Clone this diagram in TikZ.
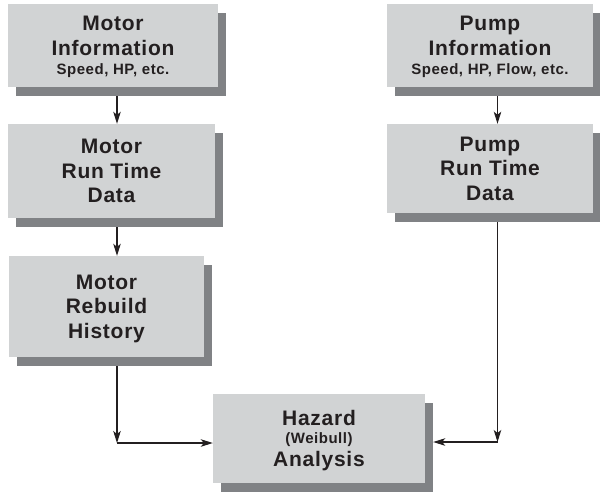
\documentclass[tikz,border=0pt]{standalone}
\usepackage{fontspec}
\setmainfont{Liberation Sans}[LetterSpace=3.5]
\usetikzlibrary{arrows.meta,shadows,calc}
\definecolor{boxgray}{HTML}{D1D3D4}
\definecolor{shadowgray}{HTML}{808285}
\definecolor{ink}{HTML}{231F20}
\pgfdeclarelayer{back}
\pgfsetlayers{back,main}
\tikzset{
  flowbox/.style={fill=boxgray, draw=none, inner sep=0pt, align=center,
    text=ink, font=\bfseries\fontsize{21}{24.5}\selectfont,
    general shadow={fill=shadowgray, shadow xshift=8pt, shadow yshift=-8.5pt}},
  link/.style={draw=ink, line width=1.1pt,
    -{Stealth[length=12pt,width=7.5pt,inset=3pt]}}
}
% small subtitle line; its descenders do not count in the box height
\newcommand{\smallline}[1]{{\fontsize{15}{24.5}\selectfont\smash{#1}}}
\begin{document}
\begin{tikzpicture}[x=1pt,y=-1pt]
\useasboundingbox (0,0) rectangle (600,491);

% motor column
\node[flowbox, minimum width=210pt, minimum height=83pt] (mi) at (113,45.5)
  {Motor\\[0.5pt]Information\\[-5pt]\smallline{Speed, HP, etc.}};
\node[flowbox, minimum width=207pt, minimum height=94pt] (mr) at (111.5,171)
  {Motor\\Run Time\\Data};
\node[flowbox, minimum width=195pt, minimum height=101pt] (mb) at (106.5,306.5)
  {Motor\\Rebuild\\\smash{History}};

% pump column
\node[flowbox, minimum width=206pt, minimum height=83pt] (pi) at (490,45.5)
  {Pump\\[0.5pt]Information\\[-5pt]\smallline{Speed, HP, Flow, etc.}};
\node[flowbox, minimum width=206pt, minimum height=89pt] (pr) at (490,168.5)
  {Pump\\Run Time\\Data};

% analysis
\node[flowbox, minimum width=212pt, minimum height=89pt] (hz) at (319,438.5)
  {Hazard\\[-6pt]\smallline{(Weibull)}\\[-1.5pt]\smash{Analysis}};

% routing points
\coordinate (lx) at (117,0);
\coordinate (rx) at (497.5,0);
\coordinate (j1) at (117,443);
\coordinate (j2) at (497.5,442);

\begin{pgfonlayer}{back}
  \draw[link] (mi.south -| lx) -- (mr.north -| lx);
  \draw[link] (mr.south -| lx) -- (mb.north -| lx);
  \draw[link] (mb.south -| lx) -- (j1);
  \draw[link] (j1) -- (j1 -| hz.west);
  \draw[link] (pi.south -| rx) -- (pr.north -| rx);
  \draw[link] (pr.south -| rx) -- (j2);
  \draw[link] (j2) -- ($(j2 -| hz.east)+(8,0)$);
\end{pgfonlayer}
\end{tikzpicture}
\end{document}
